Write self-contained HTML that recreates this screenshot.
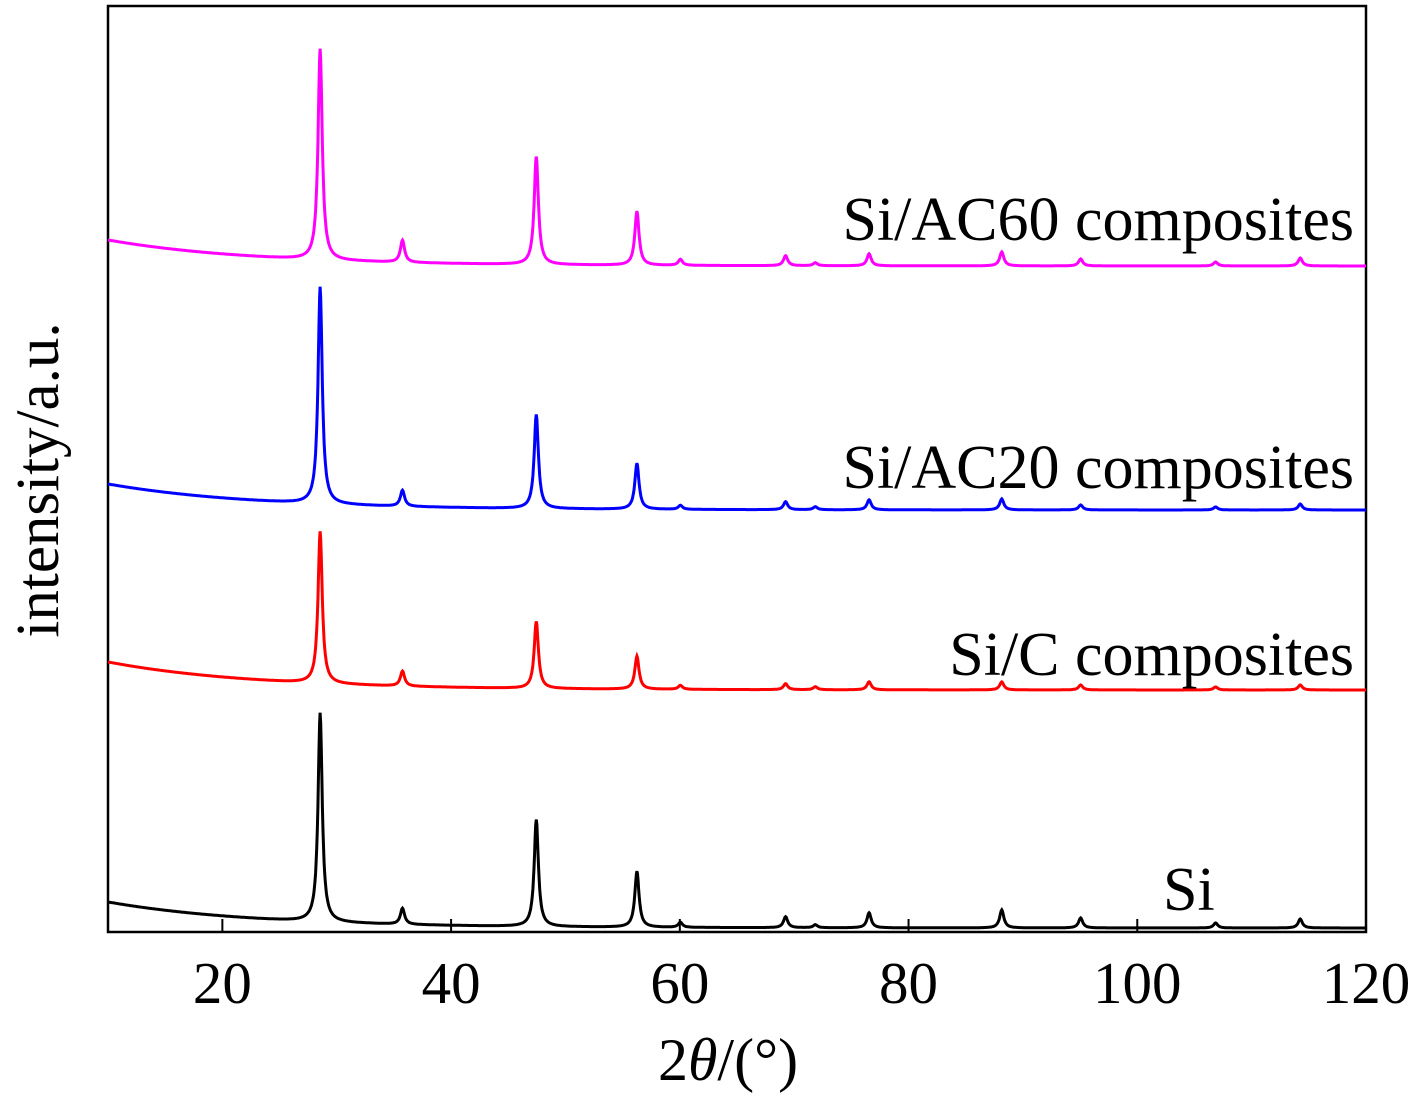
<!DOCTYPE html>
<html><head><meta charset="utf-8"><style>
html,body{margin:0;padding:0;background:#fff;}
svg text{font-family:"Liberation Serif",serif;fill:#000;}
</style></head><body>
<svg id="chart" width="1417" height="1095" viewBox="0 0 1417 1095" xmlns="http://www.w3.org/2000/svg">
<rect x="108" y="6" width="1258" height="926" fill="none" stroke="#000" stroke-width="2.5"/>
<g id="ticks"></g>
<g id="series"></g>
<g id="labels"></g>
<text x="728" y="1080" font-size="60" text-anchor="middle">2<tspan font-style="italic">θ</tspan>/(°)</text>
<text transform="translate(58,480) rotate(-90)" font-size="61" text-anchor="middle">intensity/a.u.</text>
</svg>
<script>
const xTicks = [20, 40, 60, 80, 100, 120];
const peakPos = [28.55, 35.75, 47.45, 56.25, 60.05, 69.25, 71.85, 76.55, 88.15, 95.05, 106.85, 114.25];
const seriesNames = ["Si", "Si/C composites", "Si/AC20 composites", "Si/AC60 composites"];
const seriesColors = ["#000000", "#ff0000", "#0000ff", "#ff00ff"];
const seriesOffset = [4, 242, 422, 666];
const seriesBgAmp = [26, 28, 26, 26];
const peaksSi = [209, 16, 107, 56, 5, 11, 3, 15, 18, 10, 5, 9];
const peaksSiC = [152, 15, 67, 33, 4, 6, 3, 8, 8, 5, 3, 5];
const peaksAC20 = [217, 16, 94, 46, 4, 8, 3, 10, 11, 5, 3, 6];
const peaksAC60 = [211, 22, 108, 54, 6, 10, 3, 12, 14, 7, 4, 8];
const labelY = [22, 257, 444, 692];

const seriesPeaks = [peaksSi, peaksSiC, peaksAC20, peaksAC60];
const X0=108, X1=1366, Y0=932, Y1=6;
const xs = v => X0 + (v-10)/(120-10)*(X1-X0);
const ys = v => Y0 - v/926*(Y0-Y1);
const NS="http://www.w3.org/2000/svg";
const tg=document.getElementById('ticks');
xTicks.forEach(t=>{
  const l=document.createElementNS(NS,'line');
  
  
  l.setAttribute('x1',xs(t));l.setAttribute('x2',xs(t));
  l.setAttribute('y1',Y0);l.setAttribute('y2',Y0-13);
  l.setAttribute('stroke','#000');l.setAttribute('stroke-width','2');
  tg.appendChild(l);
  const tx=document.createElementNS(NS,'text');
  
  
  tx.setAttribute('x',xs(t));tx.setAttribute('y',1003);
  tx.setAttribute('font-size','59');tx.setAttribute('text-anchor','middle');
  tx.textContent=t;tg.appendChild(tx);
});
const sg=document.getElementById('series'), lg=document.getElementById('labels');
const w=0.22;
seriesNames.forEach((name,i)=>{
  let d='';
  for(let x=10;x<=120.001;x+=0.05){
    let y=seriesOffset[i]+seriesBgAmp[i]*Math.exp(-(x-10)/13);
    seriesPeaks[i].forEach((h,k)=>{const u=(x-peakPos[k])/w;y+=h/(1+u*u);});
    d+=(d?'L':'M')+xs(x).toFixed(1)+','+ys(y).toFixed(1);
  }
  const p=document.createElementNS(NS,'path');
  
  
  p.setAttribute('d',d);p.setAttribute('fill','none');
  p.setAttribute('stroke',seriesColors[i]);p.setAttribute('stroke-width','3');
  sg.appendChild(p);
  const t=document.createElementNS(NS,'text');
  
  
  t.setAttribute('x',i===0?1163:1354);
  t.setAttribute('y',ys(labelY[i]));
  t.setAttribute('font-size','62');
  t.setAttribute('text-anchor',i===0?'start':'end');
  t.textContent=name;lg.appendChild(t);
});
</script>
</body></html>
